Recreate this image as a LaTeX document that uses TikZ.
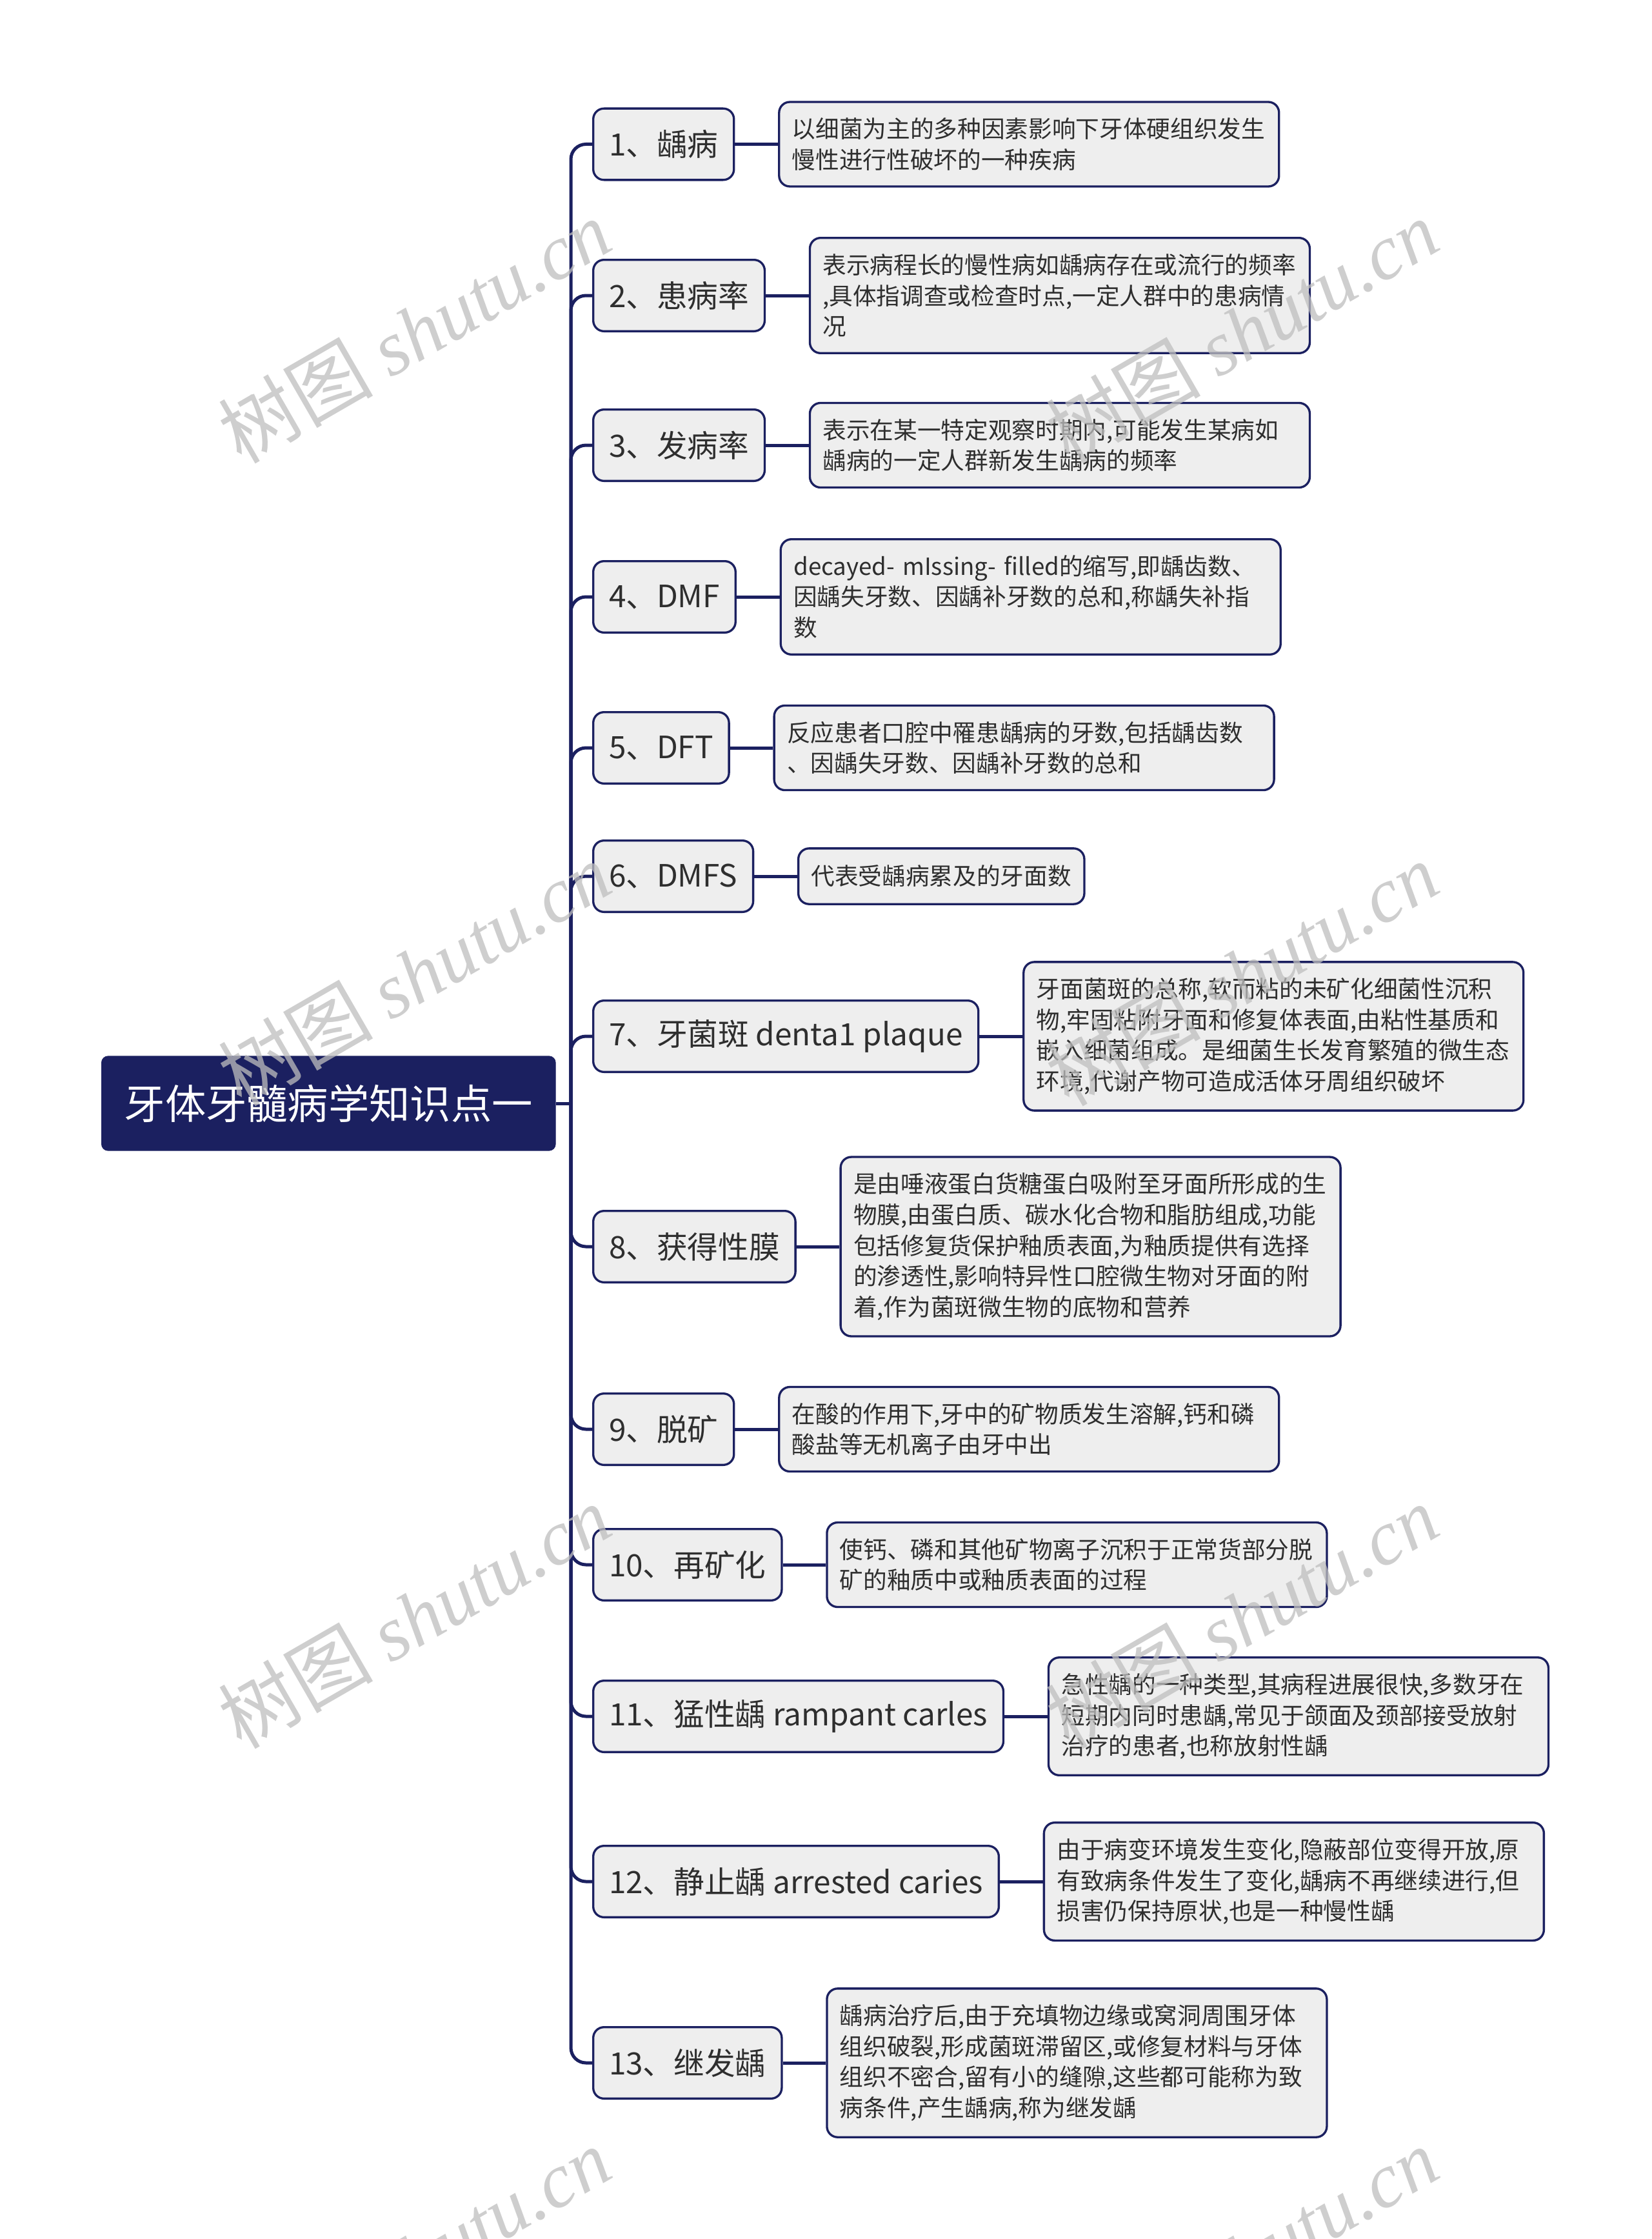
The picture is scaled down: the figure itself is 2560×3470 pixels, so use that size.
\documentclass[tikz,border=0pt]{standalone}
\usepackage{fontspec}
\setmainfont{Noto Sans CJK SC}
\newfontfamily\wmlatin{Liberation Serif}
\usetikzlibrary{positioning}
\definecolor{navy}{HTML}{1B2060}
\definecolor{boxfill}{HTML}{EEEEEE}
\definecolor{txt}{HTML}{2E2E2E}
\definecolor{wmgray}{HTML}{BEBEBE}
\begin{document}
\begin{tikzpicture}[x=0.3pt,y=-0.3pt,
  conn/.style={draw=navy, line width=1.5pt, rounded corners=7pt},
  rootbox/.style={fill=navy, draw=navy, text=white, rounded corners=3pt,
    font=\fontsize{19}{23}\selectfont, inner xsep=10.5pt, inner ysep=0pt,
    minimum height=43.8pt, anchor=west},
  topic/.style={draw=navy, line width=1pt, fill=boxfill, text=txt, rounded corners=5pt,
    font=\fontsize{14.3}{17}\selectfont, inner xsep=7.3pt, inner ysep=0pt,
    minimum height=33.2pt, anchor=west},
  note/.style={draw=navy, line width=1pt, fill=boxfill, text=txt, rounded corners=5pt,
    font=\fontsize{11}{14.3}\selectfont, inner xsep=6pt, inner ysep=7.4pt,
    text width=220.5pt, align=left, anchor=west},
  noteshort/.style={draw=navy, line width=1pt, fill=boxfill, text=txt, rounded corners=5pt,
    font=\fontsize{11}{14.3}\selectfont, inner xsep=6pt, inner ysep=7.4pt,
    minimum height=25.9pt, anchor=west},
  wm/.style={text=wmgray, opacity=0.75, rotate=30, font=\fontsize{36}{40}\selectfont}
]
\useasboundingbox (0,0) rectangle (2560,3470);

% root
\node[rootbox] (root) at (157,1710) {牙体牙髓病学知识点一};
\coordinate (sp) at (885,1710);

% topics
\node[topic] (t1) at (918,223.5) {1、龋病};
\node[topic] (t2) at (918,458) {2、患病率};
\node[topic] (t3) at (918,690) {3、发病率};
\node[topic] (t4) at (918,925) {4、DMF};
\node[topic] (t5) at (918,1159) {5、DFT};
\node[topic] (t6) at (918,1358) {6、DMFS};
\node[topic] (t7) at (918,1606) {7、牙菌斑 denta1 plaque};
\node[topic] (t8) at (918,1932) {8、获得性膜};
\node[topic] (t9) at (918,2215) {9、脱矿};
\node[topic] (t10) at (918,2425) {10、再矿化};
\node[topic] (t11) at (918,2660) {11、猛性龋 rampant carles};
\node[topic] (t12) at (918,2916) {12、静止龋 arrested caries};
\node[topic] (t13) at (918,3197) {13、继发龋};

% notes
\node[note, right=20pt of t1] (n1) {以细菌为主的多种因素影响下牙体硬组织发生\\慢性进行性破坏的一种疾病};
\node[note, right=20pt of t2] (n2) {表示病程长的慢性病如龋病存在或流行的频率\\,具体指调查或检查时点,一定人群中的患病情\\况};
\node[note, right=20pt of t3] (n3) {表示在某一特定观察时期内,可能发生某病如\\龋病的一定人群新发生龋病的频率};
\node[note, right=20pt of t4] (n4) {decayed- mIssing- filled的缩写,即龋齿数、\\因龋失牙数、因龋补牙数的总和,称龋失补指\\数};
\node[note, right=20pt of t5] (n5) {反应患者口腔中罹患龋病的牙数,包括龋齿数\\、因龋失牙数、因龋补牙数的总和};
\node[noteshort, right=20pt of t6] (n6) {代表受龋病累及的牙面数};
\node[note, right=20pt of t7] (n7) {牙面菌斑的总称,软而粘的未矿化细菌性沉积\\物,牢固粘附牙面和修复体表面,由粘性基质和\\嵌入细菌组成。是细菌生长发育繁殖的微生态\\环境,代谢产物可造成活体牙周组织破坏};
\node[note, right=20pt of t8] (n8) {是由唾液蛋白货糖蛋白吸附至牙面所形成的生\\物膜,由蛋白质、碳水化合物和脂肪组成,功能\\包括修复货保护釉质表面,为釉质提供有选择\\的渗透性,影响特异性口腔微生物对牙面的附\\着,作为菌斑微生物的底物和营养};
\node[note, right=20pt of t9] (n9) {在酸的作用下,牙中的矿物质发生溶解,钙和磷\\酸盐等无机离子由牙中出};
\node[note, right=20pt of t10] (n10) {使钙、磷和其他矿物离子沉积于正常货部分脱\\矿的釉质中或釉质表面的过程};
\node[note, right=20pt of t11] (n11) {急性龋的一种类型,其病程进展很快,多数牙在\\短期内同时患龋,常见于颌面及颈部接受放射\\治疗的患者,也称放射性龋};
\node[note, right=20pt of t12] (n12) {由于病变环境发生变化,隐蔽部位变得开放,原\\有致病条件发生了变化,龋病不再继续进行,但\\损害仍保持原状,也是一种慢性龋};
\node[note, right=20pt of t13] (n13) {龋病治疗后,由于充填物边缘或窝洞周围牙体\\组织破裂,形成菌斑滞留区,或修复材料与牙体\\组织不密合,留有小的缝隙,这些都可能称为致\\病条件,产生龋病,称为继发龋};

% connectors
\draw[conn] (root.east) -- (sp);
\foreach \i in {1,...,13} {
  \draw[conn] (sp) |- (t\i.west);
  \draw[conn] (t\i.east) -- (n\i.west);
}

% watermarks
\begin{scope}
\clip (0,0) rectangle (2560,3470);
\node[wm] (wm1) at (642,513) {树图 {\wmlatin\itshape shutu.cn}};
\node[wm] (wm2) at (1925,513) {树图 {\wmlatin\itshape shutu.cn}};
\node[wm] (wm3) at (642,1509) {树图 {\wmlatin\itshape shutu.cn}};
\node[wm] (wm4) at (1925,1509) {树图 {\wmlatin\itshape shutu.cn}};
\node[wm] (wm5) at (642,2505) {树图 {\wmlatin\itshape shutu.cn}};
\node[wm] (wm6) at (1925,2505) {树图 {\wmlatin\itshape shutu.cn}};
\node[wm] (wm7) at (642,3501) {树图 {\wmlatin\itshape shutu.cn}};
\node[wm] (wm8) at (1925,3501) {树图 {\wmlatin\itshape shutu.cn}};
\end{scope}
\end{tikzpicture}
\end{document}
